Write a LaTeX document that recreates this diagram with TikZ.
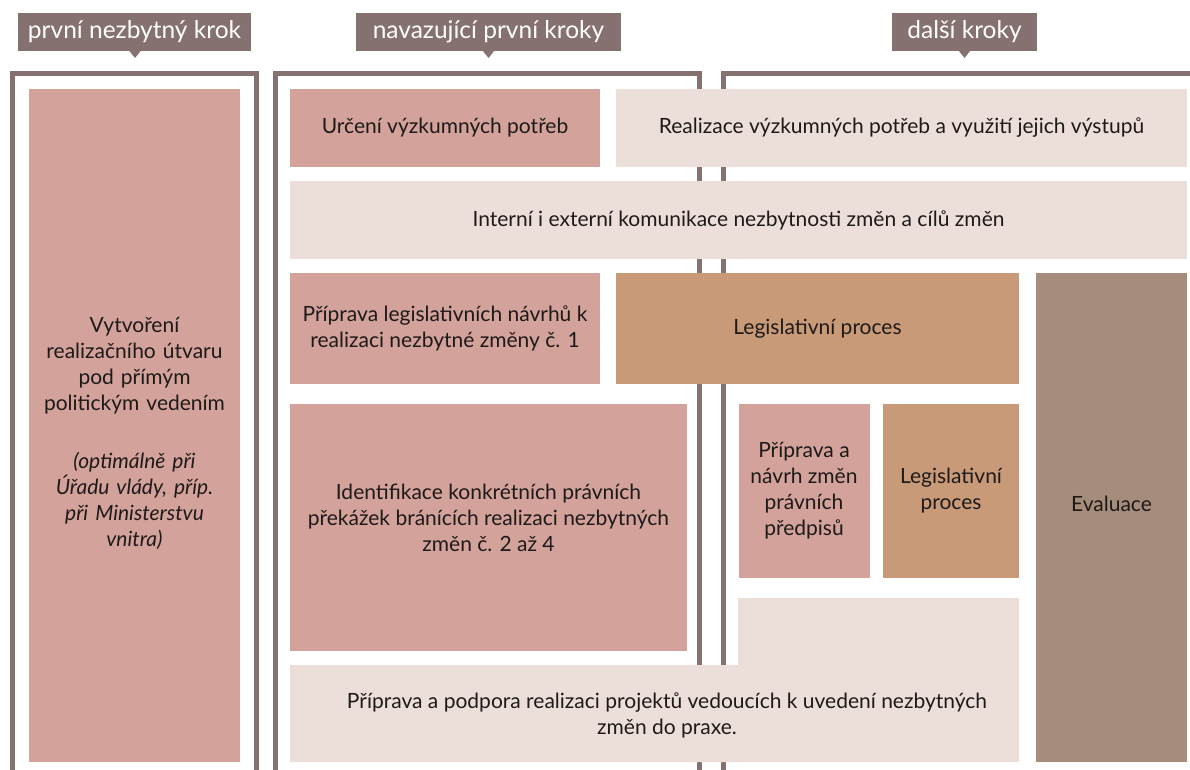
\documentclass[tikz,border=0pt]{standalone}
\usepackage{fontspec}
\setmainfont{Lato}
\definecolor{framec}{HTML}{867171}
\definecolor{pinkc}{HTML}{D3A29A}
\definecolor{palec}{HTML}{ECDFDA}
\definecolor{tanc}{HTML}{C99A78}
\definecolor{evalc}{HTML}{A68D7B}
\definecolor{txtc}{HTML}{1E1A1A}
\newcommand{\boxfont}{\fontsize{21}{26}\selectfont}
\newcommand{\tabfont}{\fontsize{24.5}{26}\selectfont}
\tikzset{
  box/.style={rectangle, inner sep=0pt, outer sep=0pt, align=center, font=\boxfont, text=txtc},
  tabbox/.style={rectangle, fill=framec, text=white, font=\tabfont, inner sep=0pt, outer sep=0pt},
  frameline/.style={draw=framec, line width=5pt},
  pointer/.style={fill=framec}
}
\begin{document}
\begin{tikzpicture}[x=1pt,y=-1pt]
\useasboundingbox (0,0) rectangle (1190,769);
% frames
\draw[frameline] (12,772) -- (12,73.5) -- (256.5,73.5) -- (256.5,772);
\draw[frameline] (275.5,772) -- (275.5,73.5) -- (699.5,73.5) -- (699.5,772);
\draw[frameline] (723.5,772) -- (723.5,73.5) -- (1192,73.5);
% tabs
\node[tabbox, minimum width=233pt, minimum height=38pt] (tab1) at (134.5,32) {první nezbytný krok};
\node[tabbox, minimum width=265pt, minimum height=38pt] (tab2) at (488.5,32) {navazující první kroky};
\node[tabbox, minimum width=145pt, minimum height=38pt] (tab3) at (964.5,32) {další kroky};
\fill[pointer] (129,50.5) -- (135,58) -- (141,50.5) -- cycle;
\fill[pointer] (482.5,50.5) -- (488.5,58) -- (494.5,50.5) -- cycle;
\fill[pointer] (958.5,50.5) -- (964.5,58) -- (970.5,50.5) -- cycle;
% boxes
\node[box, fill=pinkc, minimum width=211pt, minimum height=673pt] (vytvoreni) at (134.5,425.5) {};
\node[box, text width=205pt] (vytvoreni-t) at (134.5,433)
  {Vytvoření\\realizačního útvaru\\pod přímým\\politickým vedením\\[32pt]\itshape (optimálně při\\\itshape Úřadu vlády, příp.\\\itshape při Ministerstvu\\\itshape vnitra)};
\node[box, fill=pinkc, minimum width=310pt, minimum height=78pt] (urceni) at (445,128) {Určení výzkumných potřeb};
\node[box, fill=palec, minimum width=571pt, minimum height=78pt] (realizace) at (901.5,128) {Realizace výzkumných potřeb a využití jejich výstupů};
\node[box, fill=palec, minimum width=897pt, minimum height=78pt] (interni) at (738.5,220) {Interní i externí komunikace nezbytnosti změn a cílů změn};
\node[box, fill=pinkc, minimum width=310pt, minimum height=111pt] (priprava1) at (445,328.5) {Příprava legislativních návrhů k\\realizaci nezbytné změny č. 1};
\node[box, fill=tanc, minimum width=403pt, minimum height=111pt] (legis1) at (817.5,328.5) {Legislativní proces};
\node[box, fill=evalc, minimum width=151pt, minimum height=489pt] (evaluace) at (1111.5,517.5) {};
\node[box] (evaluace-t) at (1111.5,504) {Evaluace};
\node[box, fill=pinkc, minimum width=397pt, minimum height=247pt] (identifikace) at (488.5,527.5) {};
\node[box] (identifikace-t) at (488.5,518) {Identifikace konkrétních právních\\překážek bránících realizaci nezbytných\\změn č. 2 až 4};
\node[box, fill=pinkc, minimum width=131pt, minimum height=174pt] (priprava2) at (804,491) {\fontsize{21}{27}\selectfont Příprava a\\návrh změn\\právních\\předpisů};
\node[box, fill=tanc, minimum width=136pt, minimum height=174pt] (legis2) at (951,491) {\fontsize{21}{28}\selectfont Legislativní\\proces};
\fill[palec] (290,665) -- (738,665) -- (738,598) -- (1019,598) -- (1019,762) -- (290,762) -- cycle;
\node[box] (podpora) at (667,715) {\fontsize{21}{29}\selectfont Příprava a podpora realizaci projektů vedoucích k uvedení nezbytných\\změn do praxe.};
\end{tikzpicture}
\end{document}
